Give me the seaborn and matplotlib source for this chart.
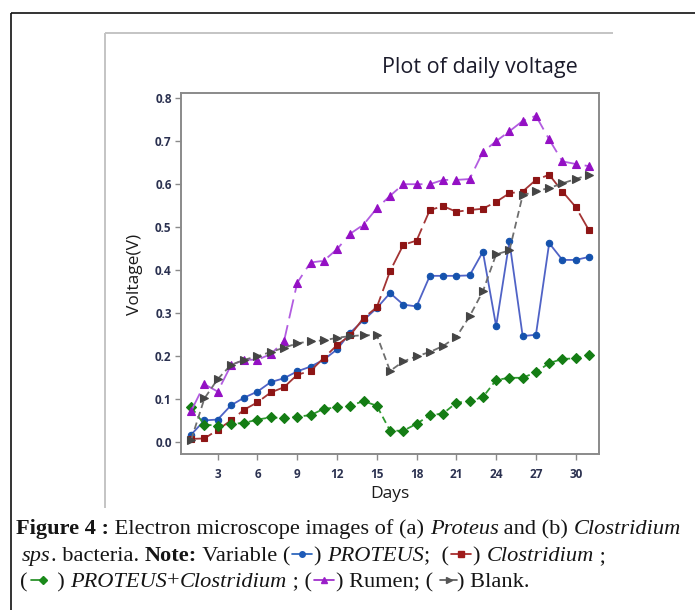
import matplotlib
matplotlib.use("Agg")
import matplotlib.pyplot as plt
import seaborn as sns
import pandas as pd
from matplotlib.lines import Line2D

# ---------------- data ----------------
days = list(range(1, 32))
proteus = [0.018, 0.051, 0.053, 0.086, 0.104, 0.118, 0.140, 0.149, 0.165, 0.176,
           0.192, 0.216, 0.255, 0.284, 0.312, 0.347, 0.320, 0.316, 0.387, 0.387,
           0.387, 0.388, 0.443, 0.270, 0.467, 0.247, 0.250, 0.463, 0.424, 0.424, 0.431]
clostridium = [0.008, 0.009, 0.029, 0.051, 0.076, 0.093, 0.116, 0.128, 0.157, 0.166,
               0.196, 0.226, 0.249, 0.289, 0.314, 0.398, 0.459, 0.469, 0.540, 0.549,
               0.536, 0.540, 0.543, 0.559, 0.579, 0.583, 0.610, 0.622, 0.583, 0.547, 0.493]
proteus_clostridium = [0.082, 0.041, 0.039, 0.043, 0.045, 0.053, 0.058, 0.056, 0.060, 0.063,
                       0.078, 0.081, 0.085, 0.096, 0.085, 0.027, 0.027, 0.043, 0.063, 0.067,
                       0.092, 0.096, 0.105, 0.145, 0.150, 0.150, 0.163, 0.184, 0.194, 0.195, 0.202]
rumen = [0.073, 0.135, 0.118, 0.179, 0.192, 0.192, 0.205, 0.235, 0.371, 0.418,
         0.422, 0.449, 0.485, 0.506, 0.544, 0.573, 0.600, 0.600, 0.600, 0.610,
         0.610, 0.612, 0.675, 0.700, 0.723, 0.747, 0.759, 0.704, 0.653, 0.647, 0.642]
blank = [0.006, 0.102, 0.147, 0.180, 0.192, 0.200, 0.210, 0.220, 0.230, 0.235,
         0.237, 0.243, 0.247, 0.249, 0.249, 0.166, 0.188, 0.200, 0.210, 0.224,
         0.245, 0.293, 0.351, 0.437, 0.446, 0.574, 0.584, 0.591, 0.602, 0.612, 0.622]
series_names = ["PROTEUS", "Clostridium", "PROTEUS+Clostridium", "Rumen", "Blank"]
x_ticks = [3, 6, 9, 12, 15, 18, 21, 24, 27, 30]
y_ticks = [0.0, 0.1, 0.2, 0.3, 0.4, 0.5, 0.6, 0.7, 0.8]
title_text = "Plot of daily voltage"
x_label = "Days"
y_label = "Voltage(V)"

# ---------------- style ----------------
W, H = 695, 610
sns.set_theme(style="white")
plt.rcParams["font.family"] = ["Open Sans", "DejaVu Sans"]
plt.rcParams["lines.scale_dashes"] = False

styles = {
    "PROTEUS": dict(line="#5063c6", mk="#1552ad", marker="o", ms=4.6, ls="-"),
    "Clostridium": dict(line="#a33434", mk="#8e1515", marker="s", ms=5.0, ls=(0, (16, 4))),
    "PROTEUS+Clostridium": dict(line="#2f9a2f", mk="#147d14", marker="D", ms=4.6, ls=(0, (5, 3))),
    "Rumen": dict(line="#b25ce0", mk="#9410c4", marker="^", ms=6.0, ls=(0, (14, 5))),
    "Blank": dict(line="#6e6e6e", mk="#454545", marker=">", ms=6.0, ls=(0, (5, 3))),
}

fig = plt.figure(figsize=(W / 100, H / 100), dpi=100)
fig.patch.set_facecolor("white")

ax = fig.add_axes([180.7 / W, 1 - 454.3 / H, (599.3 - 180.7) / W, (454.3 - 93.3) / H])

df = pd.DataFrame({"Days": days, "PROTEUS": proteus, "Clostridium": clostridium,
                   "PROTEUS+Clostridium": proteus_clostridium, "Rumen": rumen, "Blank": blank})
long = df.melt(id_vars="Days", var_name="Series", value_name="Voltage")

for name in series_names:
    sub = long[long["Series"] == name]
    st = styles[name]
    sns.lineplot(data=sub, x="Days", y="Voltage", ax=ax, color=st["line"],
                 marker=st["marker"], markersize=st["ms"], markerfacecolor=st["mk"],
                 markeredgecolor=st["mk"], markeredgewidth=0.8, linewidth=1.3,
                 linestyle=st["ls"], errorbar=None, legend=False, sort=False)

ax.set_xlim(0.21, 31.78)
ax.set_ylim(-0.0278, 0.8113)
ax.set_xticks(x_ticks)
ax.set_yticks(y_ticks)
ax.set_yticklabels([f"{v:.1f}" for v in y_ticks])
ax.set_xlabel("")
ax.set_ylabel("")
for sp in ax.spines.values():
    sp.set_color("#8a8a8a")
    sp.set_linewidth(1.4)
tick_kw = dict(direction="out", length=4, width=1.0, color="#8a8a8a",
               labelsize=8.5, labelcolor="#2b3150")
ax.tick_params(axis="x", pad=6, bottom=True, **tick_kw)
ax.tick_params(axis="y", pad=2.5, left=True, **tick_kw)
for lab in ax.get_xticklabels() + ax.get_yticklabels():
    lab.set_fontweight("bold")
ax.grid(False)

fig.text(480 / W, 1 - 67 / H, title_text, ha="center", va="center",
         fontsize=15.5, color="#1b1b2b")
fig.text(390 / W, 1 - 494 / H, x_label, ha="center", va="center",
         fontsize=12.5, color="#1b1b1b")
fig.text(135 / W, 1 - 274 / H, y_label, ha="center", va="center", rotation=90,
         fontsize=12.5, color="#1b1b1b")

# frames
def fline(x0, y0, x1, y1, color, lw):
    fig.add_artist(Line2D([x0 / W, x1 / W], [1 - y0 / H, 1 - y1 / H],
                          transform=fig.transFigure, color=color, lw=lw,
                          solid_capstyle="butt"))

fline(11, 13, 695, 13, "#111111", 1.2)
fline(11, 13, 11, 610, "#111111", 1.2)
fline(105, 33, 613, 33, "#c4c4c4", 1.4)
fline(105, 33, 105, 508, "#c4c4c4", 1.4)

# ---------------- caption ----------------
fig.canvas.draw()
renderer = fig.canvas.get_renderer()
serif = ["Liberation Serif", "DejaVu Serif"]


def tw(s, fs, weight="normal", style="normal"):
    kw = dict(fontsize=fs, family=serif, fontweight=weight, fontstyle=style)
    t1 = fig.text(0, 0, s + "|", **kw)
    w1 = t1.get_window_extent(renderer).width
    t1.remove()
    t2 = fig.text(0, 0, "|", **kw)
    w2 = t2.get_window_extent(renderer).width
    t2.remove()
    return w1 - w2


B = "bold"
I = "italic"
sym_colors = {"PROTEUS": "#1f5bb8", "Clostridium": "#a01c1c",
              "PROTEUS+Clostridium": "#1a8a1a", "Rumen": "#9a1fc8", "Blank": "#555555"}
line1 = [("Figure 4 :", B), (" Electron microscope images of (a) ", None), ("Proteus", I),
         (" and (b) ", None), ("Clostridium", I)]
line2 = [("sps", I), (". bacteria. ", None), ("Note:", B), (" Variable (", None),
         ("SYM", "PROTEUS"), (") ", None), ("PROTEUS", I), (";  (", None),
         ("SYM", "Clostridium"), (") ", None), ("Clostridium", I), (" ;", None)]
line3 = [("(", None), ("SYM", "PROTEUS+Clostridium"), ("  ) ", None), ("PROTEUS", I), ("+", None),
         ("Clostridium", I), (" ; (", None), ("SYM", "Rumen"), (") Rumen; (", None),
         ("SYM", "Blank"), (") Blank.", None)]

# scale font so the first line spans the same width as the reference
fs0 = 14.0
w_line1 = sum(tw(s, fs0, weight="bold" if st == B else "normal",
                 style="italic" if st == I else "normal") for s, st in line1)
fs = fs0 * (683 - 16) / w_line1

sym_geom = {  # width, line start, line end, marker x
    "PROTEUS": (24, 2, 22, 12, "o", 4.0),
    "Clostridium": (24, 2, 22, 12, "s", 4.2),
    "PROTEUS+Clostridium": (18, 3, 16, 16, "D", 4.0),
    "Rumen": (24, 2, 22, 12, "^", 5.0),
    "Blank": (24, 7, 24, 16, ">", 5.0),
}


def draw_line(parts, x, yb):
    for s, st in parts:
        if s == "SYM":
            wdt, l0, l1, mx, mk, ms = sym_geom[st]
            c = sym_colors[st]
            ym = yb - fs * 100 / 72 * 0.30
            fig.add_artist(Line2D([(x + l0) / W, (x + l1) / W], [1 - ym / H, 1 - ym / H],
                                  transform=fig.transFigure, color=c, lw=1.2))
            fig.add_artist(Line2D([(x + mx) / W], [1 - ym / H], transform=fig.transFigure,
                                  color=c, marker=mk, markersize=ms, linestyle="none"))
            x += wdt
            continue
        weight = "bold" if st == B else "normal"
        style = "italic" if st == I else "normal"
        fig.text(x / W, 1 - yb / H, s, ha="left", va="baseline", fontsize=fs,
                 family=serif, fontweight=weight, fontstyle=style, color="#151515")
        x += tw(s, fs, weight, style)


draw_line(line1, 16, 534)
draw_line(line2, 22, 561)
draw_line(line3, 20, 587)

fig.savefig("out.png", dpi=100, facecolor="white")
